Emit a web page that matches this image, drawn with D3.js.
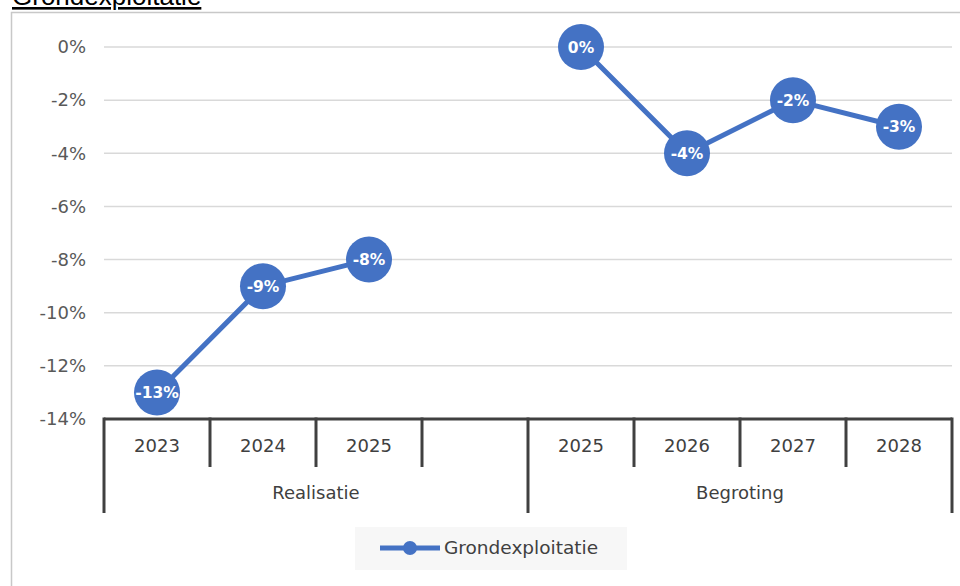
<!DOCTYPE html>
<html>
<head>
<meta charset="utf-8">
<script src="https://cdn.jsdelivr.net/npm/d3@7"></script>
<style>
body{margin:0;background:#fff;overflow:hidden;}
text{font-family:"DejaVu Sans",sans-serif;}
</style>
</head>
<body>
<div id="main"></div>
<script>
/////////////////////////////////////
var categories=['2023','2024','2025','','2025','2026','2027','2028'];
var groups=['Realisatie','Begroting'];
var groupSizes=[4,4];
var values=[-13,-9,-8,null,0,-4,-2,-3];
var yTicks=[0,-2,-4,-6,-8,-10,-12,-14];
var seriesName='Grondexploitatie';
/////////////////////////////////////

var width=960, height=586;
var plotLeft=104, plotRight=952, plotTop=47, plotBottom=419;
var blue='#4472c4';

var svg=d3.select('#main')
  .append('svg')
    .attr('width',width)
    .attr('height',height);

// frame
svg.append('rect')
    .attr('x',11.5).attr('y',12.5)
    .attr('width',980).attr('height',600)
    .attr('fill','none')
    .attr('stroke','#c8c8c8')
    .attr('stroke-width',1.5);

// title (cut off at top)
svg.append('text')
    .attr('x',12).attr('y',5)
    .attr('font-size',26)
    .style('font-family','"Liberation Sans",Arial,sans-serif')
    .attr('fill','#000')
    .attr('text-decoration','underline')
    .text(seriesName);

var idx=categories.map(function(d,i){return i});
var x=d3.scaleBand().domain(idx).range([plotLeft,plotRight]);
var y=d3.scaleLinear().domain([-14,0]).range([plotBottom,plotTop]);

// grid
svg.append('g')
  .selectAll('line')
    .data(yTicks.filter(function(d){return d!==-14}))
  .enter().append('line')
    .attr('x1',plotLeft).attr('x2',plotRight)
    .attr('y1',function(d){return y(d)}).attr('y2',function(d){return y(d)})
    .attr('stroke','#d9d9d9')
    .attr('stroke-width',1.5);

// y labels
svg.append('g')
  .selectAll('text')
    .data(yTicks)
  .enter().append('text')
    .attr('x',86)
    .attr('y',function(d){return y(d)})
    .attr('dy','0.35em')
    .attr('text-anchor','end')
    .attr('font-size',18)
    .attr('fill','#595959')
    .text(function(d){return d+'%'});

// category axis
var ax=svg.append('g').attr('stroke','#404040').attr('stroke-width',3);
ax.append('line').attr('x1',plotLeft).attr('x2',plotRight).attr('y1',plotBottom).attr('y2',plotBottom);
var bounds=[0];
groupSizes.forEach(function(s,i){bounds.push(bounds[i]+s)});
for(var i=0;i<=categories.length;i++){
  var xx=i<categories.length?x(i):x(categories.length-1)+x.bandwidth();
  var isGroup=bounds.indexOf(i)>=0;
  ax.append('line')
    .attr('x1',xx).attr('x2',xx)
    .attr('y1',plotBottom-1.5)
    .attr('y2',isGroup?513:467);
}
svg.append('g')
  .selectAll('text')
    .data(categories)
  .enter().append('text')
    .attr('x',function(d,i){return x(i)+x.bandwidth()/2})
    .attr('y',446)
    .attr('dy','0.35em')
    .attr('text-anchor','middle')
    .attr('font-size',18)
    .attr('fill','#404040')
    .text(function(d){return d});
svg.append('g')
  .selectAll('text')
    .data(groups)
  .enter().append('text')
    .attr('x',function(d,i){return (x(bounds[i])+x(bounds[i+1]-1)+x.bandwidth())/2})
    .attr('y',493)
    .attr('dy','0.35em')
    .attr('text-anchor','middle')
    .attr('font-size',18)
    .attr('fill','#404040')
    .text(function(d){return d});

// line
var pts=values.map(function(v,i){return {i:i,v:v}});
var line=d3.line()
    .defined(function(d){return d.v!==null})
    .x(function(d){return x(d.i)+x.bandwidth()/2})
    .y(function(d){return y(d.v)});
svg.append('path')
    .datum(pts)
    .attr('d',line)
    .attr('fill','none')
    .attr('stroke',blue)
    .attr('stroke-width',5)
    .attr('stroke-linejoin','round');

var pt=svg.append('g')
  .selectAll('g')
    .data(pts.filter(function(d){return d.v!==null}))
  .enter().append('g')
    .attr('transform',function(d){return 'translate('+(x(d.i)+x.bandwidth()/2)+','+y(d.v)+')'});
pt.append('circle').attr('r',23).attr('fill',blue);
pt.append('text')
    .attr('text-anchor','middle')
    .attr('dy','0.36em')
    .attr('font-size',15.5)
    .attr('font-weight','bold')
    .attr('fill','#fff')
    .text(function(d){return d.v+'%'});

// legend
var lg=svg.append('g').attr('transform','translate(355,527)');
lg.append('rect').attr('width',272).attr('height',43).attr('fill','#f7f7f7');
lg.append('line').attr('x1',25).attr('x2',85).attr('y1',21).attr('y2',21)
    .attr('stroke',blue).attr('stroke-width',5);
lg.append('circle').attr('cx',55).attr('cy',21).attr('r',7).attr('fill',blue);
lg.append('text').attr('x',89).attr('y',21).attr('dy','0.35em')
    .attr('font-size',18.5).attr('fill','#404040').text(seriesName);
</script>
</body>
</html>
